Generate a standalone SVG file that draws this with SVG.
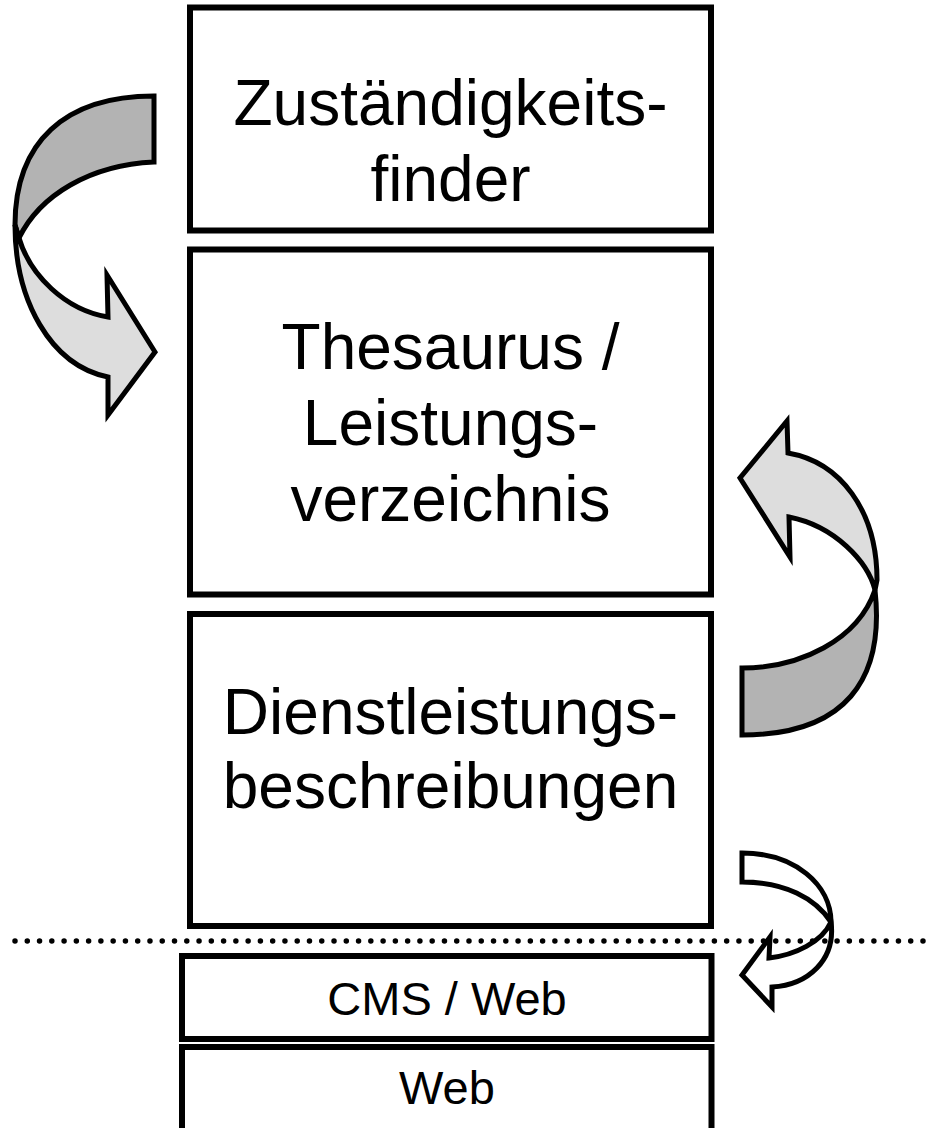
<svg xmlns="http://www.w3.org/2000/svg" width="927" height="1128" viewBox="0 0 927 1128">
  <style>
    .box { fill: #ffffff; stroke: #000000; stroke-width: 6; }
    .big { font-family: "Liberation Sans", Arial, sans-serif; font-size: 64px; text-anchor: middle; fill: #000; }
    .small { font-family: "Liberation Sans", Arial, sans-serif; font-size: 47px; text-anchor: middle; fill: #000; }
    .arr { stroke: #000; stroke-width: 5; stroke-linejoin: miter; }
    .dark { fill: #b3b3b3; }
    .light { fill: #dddddd; }
    .white { fill: #ffffff; }
  </style>
  <rect width="927" height="1128" fill="#ffffff"/>

  <g id="zustaendigkeitsfinder">
    <rect class="box" x="190" y="7.5" width="521" height="223"/>
    <text class="big" x="450.5" y="125">Zuständigkeits-</text>
    <text class="big" x="450.5" y="201">finder</text>
  </g>

  <g id="thesaurus">
    <rect class="box" x="190" y="249.5" width="521" height="345"/>
    <text class="big" x="450.5" y="369">Thesaurus /</text>
    <text class="big" x="450.5" y="445">Leistungs-</text>
    <text class="big" x="450.5" y="521">verzeichnis</text>
  </g>

  <g id="dienstleistungsbeschreibungen">
    <rect class="box" x="190" y="614" width="521" height="312"/>
    <text class="big" x="450.5" y="734">Dienstleistungs-</text>
    <text class="big" x="450.5" y="808">beschreibungen</text>
  </g>

  <g id="cms-web">
    <rect class="box" x="182" y="956" width="529.5" height="83"/>
    <text class="small" x="447" y="1015">CMS / Web</text>
  </g>

  <g id="web">
    <rect class="box" x="182" y="1047" width="529.5" height="95"/>
    <text class="small" x="447" y="1104">Web</text>
  </g>

  <g id="connectors">
    <!-- left curved arrow: Zuständigkeitsfinder -> Thesaurus -->
    <g id="arrow-left">
      <path class="arr dark" d="M154,96 C65,96 15,142 15,225 L19,238 C40,195 90,165 154,162 Z"/>
      <path class="arr light" d="M19,238 L15,225 C15,300 50,365 108,377 L108,415 L155,352 L107,275 L108,317 C65,310 30,275 19,238 Z"/>
    </g>
    <!-- right curved arrow: Dienstleistungsbeschreibungen -> Thesaurus -->
    <g id="arrow-right">
      <path class="arr dark" d="M875,590 C885,680 845,735 742,735 L742,668 C800,668 858,640 875,590 Z"/>
      <path class="arr light" d="M875,590 L877,580 C877,510 840,462 788,453 L787,421 L740,478 L790,557 L789,517 C835,526 868,562 875,590 Z"/>
    </g>
    <!-- small white arrow: Dienstleistungsbeschreibungen -> CMS / Web -->
    <g id="arrow-small">
      <path class="arr white" d="M742,853 C795,853 831,885 831,922 C815,898 785,882 742,882 Z"/>
      <path class="arr white" d="M831,922 C836,960 808,985 772,987 L772,1007 L742,975 L770,937 L769,958 C795,955 822,942 831,922 Z"/>
    </g>
  </g>

  <g id="separator">
    <line x1="15" y1="941" x2="927" y2="941" stroke="#000" stroke-width="5.5" stroke-linecap="round" stroke-dasharray="0 12.27"/>
  </g>
</svg>
